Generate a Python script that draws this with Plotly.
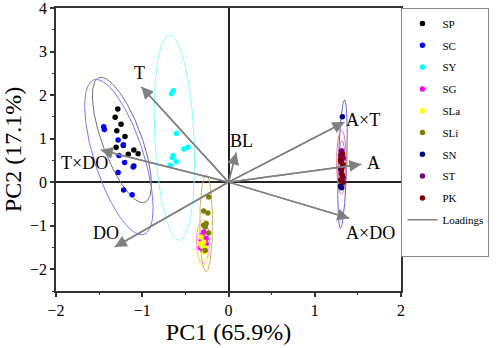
import numpy as np
import plotly.graph_objects as go

# ---------------- data ----------------
groups = ["SP", "SC", "SY", "SG", "SLa", "SLi", "SN", "ST", "PK"]
colors = ["#000000", "#0000ff", "#00ffff", "#ff00ff", "#ffff00", "#808000", "#000080", "#800080", "#800000"]
ell_colors = ["#707070", "#7777ff", "#88ffff", "#ff88ff", "#ffff55", "#c8b464", "#6666dd", "#c070c0", "#e08080"]

sp_x = [-1.284, -1.314, -1.246, -1.295, -1.303, -1.219, -1.098, -1.048, -1.162, -1.098, -1.20]
sp_y = [1.68, 1.49, 1.33, 1.18, 0.80, 0.84, 0.74, 0.65, 0.64, 0.37, 1.05]
sc_x = [-1.447, -1.44, -1.28, -1.219, -1.27, -1.204, -1.105, -1.28, -1.216, -1.117]
sc_y = [1.27, 1.21, 0.97, 0.86, 0.61, 0.45, 0.35, 0.22, -0.18, -0.29]
sy_x = [-0.642, -0.661, -0.604, -0.471, -0.516, -0.642, -0.65, -0.604, -0.676]
sy_y = [2.10, 2.03, 1.12, 0.80, 0.76, 0.61, 0.56, 0.47, 0.39]
sg_x = [-0.288, -0.308, -0.259, -0.316, -0.327, -0.296, -0.259]
sg_y = [-1.145, -1.221, -1.297, -1.336, -1.505, -1.551, -1.412]
sla_x = [-0.319, -0.288, -0.308, -0.281, -0.327, -0.27]
sla_y = [-1.26, -1.376, -1.475, -1.606, -1.412, -1.505]
sli_x = [-0.231, -0.288, -0.239, -0.259, -0.288, -0.270, -0.231, -0.270]
sli_y = [-0.339, -0.661, -0.707, -0.952, -0.991, -1.03, -1.168, -1.567]
sn_x = [1.32, 1.30, 1.31, 1.32, 1.30]
sn_y = [1.50, -0.09, -0.13, 0.60, 0.30]
st_x = [1.31, 1.33, 1.30, 1.32, 1.31, 1.33, 1.30]
st_y = [0.72, 0.55, 0.48, 0.35, 0.20, 0.10, 0.62]
pk_x = [1.32, 1.30, 1.33, 1.31, 1.32, 1.30, 1.33, 1.31]
pk_y = [0.65, 0.52, 0.40, 0.28, 0.15, 0.05, 0.00, 0.45]

group_x = [sp_x, sc_x, sy_x, sg_x, sla_x, sli_x, sn_x, st_x, pk_x]
group_y = [sp_y, sc_y, sy_y, sg_y, sla_y, sli_y, sn_y, st_y, pk_y]

# confidence ellipses: centre and two semi-axis vectors (PC units)
ell_cx = [-1.236, -1.271, -0.627, -0.296, -0.30, -0.259, 1.322, 1.315, 1.31]
ell_cy = [0.968, 0.576, 1.025, -1.359, -1.40, -0.945, 0.415, 0.40, 0.46]
ell_ux = [-0.268, -0.291, -0.057, 0.0, 0.0, 0.0, 0.023, 0.0, 0.0]
ell_uy = [1.429, 1.774, 2.362, 0.507, 0.55, 1.113, 1.475, 0.55, 0.737]
ell_vx = [0.213, 0.270, 0.228, 0.076, 0.062, 0.074, 0.05, 0.04, 0.057]
ell_vy = [0.164, 0.182, 0.022, 0.0, 0.0, 0.0, 0.0, 0.0, 0.0]

loadings = ["T", "DO", "T×DO", "BL", "A×T", "A", "A×DO"]
load_pc1 = [-1.01, -1.32, -1.48, 0.09, 1.345, 1.54, 1.40]
load_pc2 = [2.19, -1.49, 0.74, 0.68, 1.38, 0.41, -0.83]

# label offsets in pixels (style)
lab_dx = [-2, -9, -16, 5, 18, 12, 21]
lab_dy = [14, 14, -13, 12, 2, 1, -15]

FONT = "Liberation Serif, Times New Roman, serif"
fig = go.Figure()

t = np.linspace(0, 2 * np.pi, 200)
for i, g in enumerate(groups):
    ex = ell_cx[i] + ell_ux[i] * np.cos(t) + ell_vx[i] * np.sin(t)
    ey = ell_cy[i] + ell_uy[i] * np.cos(t) + ell_vy[i] * np.sin(t)
    fig.add_trace(go.Scatter(x=ex, y=ey, mode="lines", showlegend=False, hoverinfo="skip",
                             line=dict(color=ell_colors[i], width=1)))

for i, g in enumerate(groups):
    fig.add_trace(go.Scatter(x=group_x[i], y=group_y[i], mode="markers", name=g, legendgroup=g,
                             marker=dict(color=colors[i], size=5.5)))

# loading shafts (also provides legend entry)
lx, ly = [], []
for a, b in zip(load_pc1, load_pc2):
    lx += [0, a, None]
    ly += [0, b, None]
fig.add_trace(go.Scatter(x=lx, y=ly, mode="lines", name="Loadings", legendgroup="Loadings",
                         line=dict(color="#808080", width=1.5), hoverinfo="skip"))
# empty legend row (the reference legend box has a blank row at the bottom)
fig.add_trace(go.Scatter(x=[None], y=[None], mode="markers", name=" ", legendgroup="blank",
                         marker=dict(color="rgba(0,0,0,0)", size=1), hoverinfo="skip"))

for i, name in enumerate(loadings):
    fig.add_annotation(x=load_pc1[i], y=load_pc2[i], ax=0, ay=0, xref="x", yref="y",
                       axref="x", ayref="y", text="", showarrow=True, arrowhead=2,
                       arrowsize=1.6, arrowwidth=1.5, arrowcolor="#808080")
    fig.add_annotation(x=load_pc1[i], y=load_pc2[i], text=name, showarrow=False,
                       xshift=lab_dx[i], yshift=lab_dy[i],
                       font=dict(family=FONT, size=18, color="black"))

axis_common = dict(showline=True, linecolor="#333333", linewidth=1.5, mirror=True,
                   ticks="outside", ticklen=4, tickwidth=1.5, tickcolor="#333333",
                   showgrid=False, zeroline=True, zerolinecolor="#222222", zerolinewidth=1.5,
                   automargin=False, ticklabeloverflow="allow",
                   tickfont=dict(family=FONT, size=16, color="black"),
                   minor=dict(ticks="outside", ticklen=2, tickwidth=1, tickcolor="#333333", dtick=0.5))

fig.update_xaxes(range=[-2, 2], dtick=1, title=dict(text="PC1 (65.9%)", standoff=4,
                 font=dict(family=FONT, size=24, color="black")), **axis_common)
fig.update_yaxes(range=[-2.5, 4], dtick=1, title=dict(text="PC2 (17.1%)", standoff=4,
                 font=dict(family=FONT, size=24, color="black")), **axis_common)

fig.update_layout(
    width=498, height=348,
    margin=dict(l=56, r=91, t=8, b=57),
    paper_bgcolor="white", plot_bgcolor="white",
    font=dict(family=FONT, color="black"),
    # right edge of the legend box anchored just inside the figure so it never pushes the margin
    legend=dict(x=(497 - 56) / 351, xanchor="right", y=1.0, yanchor="top",
                bordercolor="#888888", borderwidth=1, tracegroupgap=2.8,
                font=dict(family=FONT, size=11, color="black"), itemwidth=30),
)

# remove the default 8px page margin, then redraw so all measurements use the final position
post = (
    "document.body.style.margin='0';"
    "document.body.style.overflow='hidden';"
    "var gd=document.getElementById('{plot_id}');"
    "Plotly.newPlot(gd, gd.data, gd.layout, {displayModeBar:false, responsive:false});"
)
fig.write_html("out.html", post_script=post, config=dict(displayModeBar=False, responsive=False))
